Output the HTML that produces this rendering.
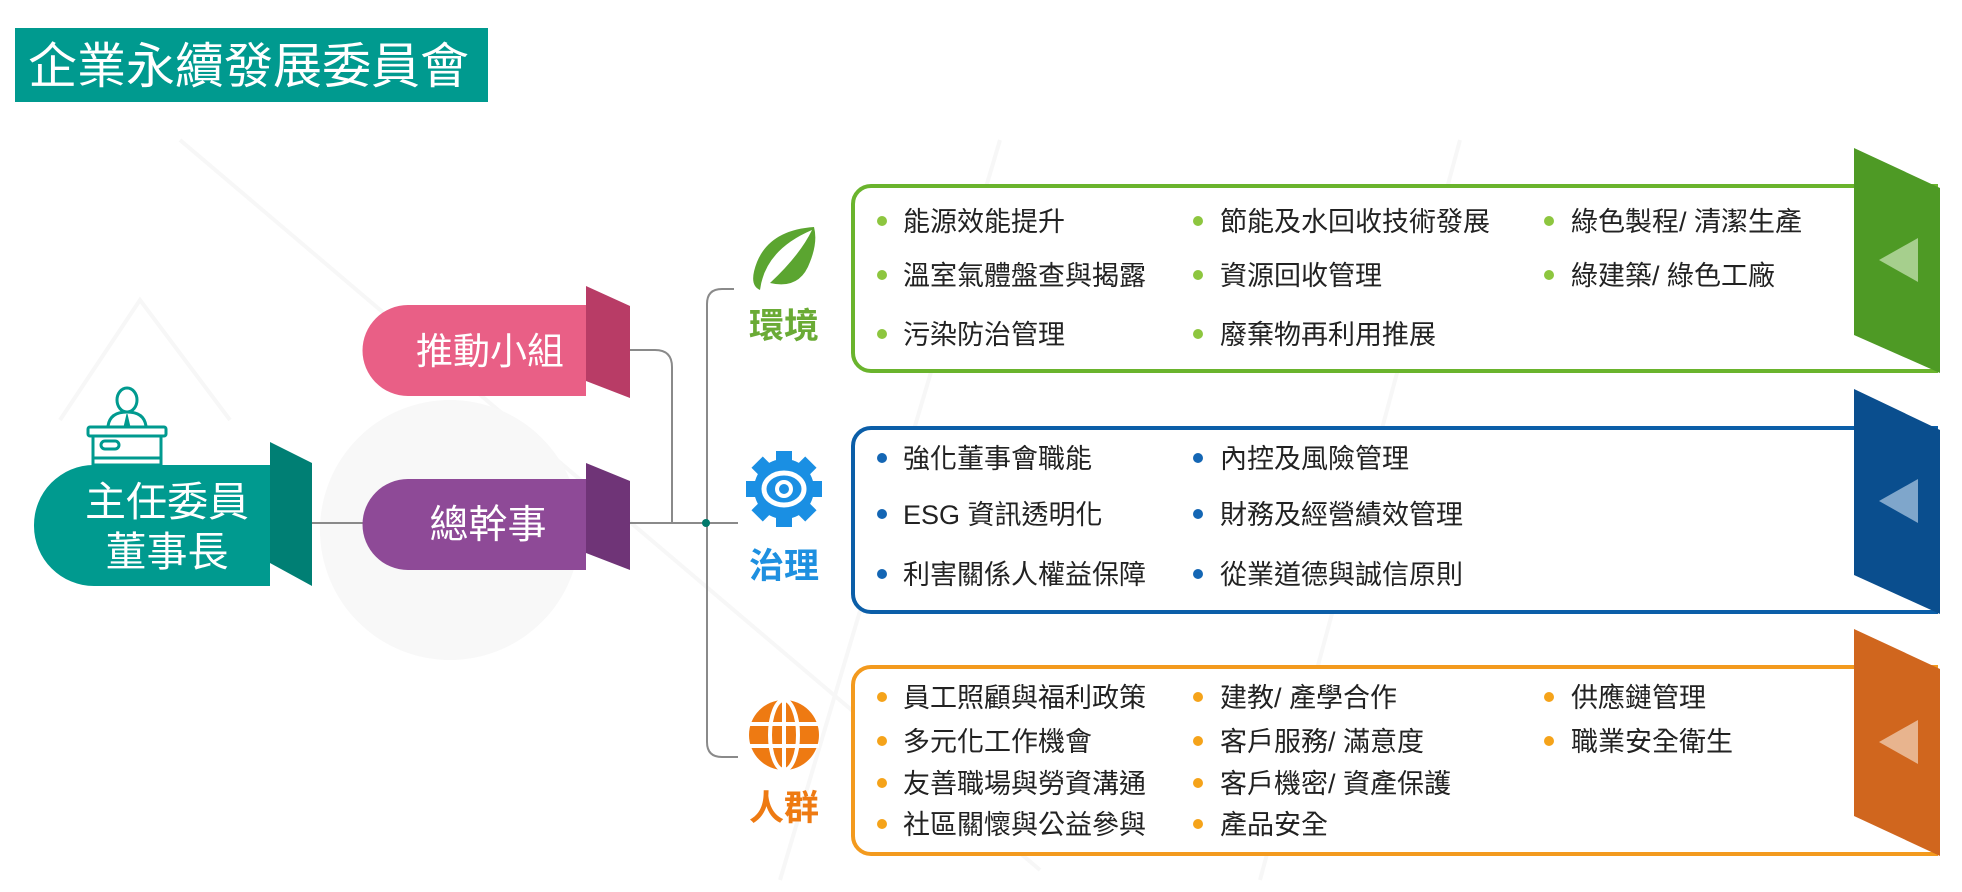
<!DOCTYPE html>
<html><head><meta charset="utf-8"><style>
html,body{margin:0;padding:0;background:#fff;}
svg{display:block;}
text{font-family:"Liberation Sans","Noto Sans CJK TC",sans-serif;}
</style></head><body>
<svg width="1962" height="892" viewBox="0 0 1962 892" xmlns="http://www.w3.org/2000/svg">
<rect width="1962" height="892" fill="#fff"/>
<g stroke="#f7f7f7" stroke-width="4" fill="none">
<path d="M180 140 L1040 870"/>
<path d="M60 420 L140 300 L230 420"/>
<circle cx="245" cy="510" r="16"/>
<path d="M1000 140 L780 880"/>
<path d="M1460 140 L1260 880"/>
</g>
<circle cx="450" cy="530" r="130" fill="#f8f8f8"/>
<rect x="15" y="28" width="473" height="74" fill="#009a8f"/>
<text x="28" y="83" font-size="49" fill="#fff">企業永續發展委員會</text>

<g stroke="#8a8a8a" stroke-width="2" fill="none">
<path d="M312 523 H363"/>
<path d="M630 523 H738"/>
<path d="M630 350 H655 Q672 350 672 367 V523"/>
<path d="M734 289 H722 Q707 289 707 304 V742 Q707 757 722 757 H738"/>
</g>
<circle cx="706" cy="523" r="4" fill="#00796b"/>

<g stroke="#009a8f" stroke-width="3" fill="#fff">
<ellipse cx="127" cy="400" rx="10" ry="12"/>
<path d="M108 426 Q110 412 127 412 Q144 412 146 426 V430 H108 Z"/>
<path d="M127 414 L124 427 L127 431 L130 427 Z" fill="#009a8f" stroke-width="1"/>
<rect x="88" y="427" width="78" height="9" rx="2"/>
<rect x="93" y="436" width="68" height="29"/>
<rect x="101" y="441" width="18" height="8" rx="4"/>
<path d="M93 458 H161"/>
</g>

<path d="M94 465 H270 V586 H94 A60 60 0 0 1 34 526 A60 60 0 0 1 94 465 Z" fill="#009a8f"/>
<polygon points="270,442 312,463 312,586 270,563" fill="#007f74"/>
<text x="167" y="516" font-size="41" fill="#fff" text-anchor="middle">主任委員</text>
<text x="167" y="566" font-size="41" fill="#fff" text-anchor="middle">董事長</text>

<path d="M408 305 H586 V396 H408 A45.5 45.5 0 0 1 408 305 Z" fill="#e95f86"/>
<polygon points="586,286 630,306 630,398 586,381" fill="#b83c66"/>
<text x="490" y="364" font-size="37" fill="#fff" text-anchor="middle">推動小組</text>
<path d="M408 479 H586 V570 H408 A45.5 45.5 0 0 1 408 479 Z" fill="#8e4a97"/>
<polygon points="586,463 630,481 630,570 586,553" fill="#6f3477"/>
<text x="488" y="538" font-size="39" fill="#fff" text-anchor="middle">總幹事</text>

<path d="M814 227 Q770 230 757 262 Q748 285 760 290 Q765 250 812 230 Q800 255 770 283 Q800 290 810 262 Q818 242 814 227 Z" fill="#5ba530"/>
<text x="784" y="338" font-size="35" fill="#6aab35" text-anchor="middle" font-weight="bold">環境</text>
<g transform="translate(784,489)" fill="#1a8fe3">
<circle r="30"/>
<g>
<rect x="-8" y="-38" width="16" height="14"/><rect x="-8" y="24" width="16" height="14"/>
<rect x="-38" y="-8" width="14" height="16"/><rect x="24" y="-8" width="14" height="16"/>
<rect x="-8" y="-38" width="16" height="14" transform="rotate(45)"/><rect x="-8" y="24" width="16" height="14" transform="rotate(45)"/>
<rect x="-38" y="-8" width="14" height="16" transform="rotate(45)"/><rect x="24" y="-8" width="14" height="16" transform="rotate(45)"/>
</g>
<ellipse rx="20" ry="16" fill="none" stroke="#fff" stroke-width="5"/>
<circle r="7" fill="none" stroke="#fff" stroke-width="4"/>
</g>
<text x="784" y="578" font-size="35" fill="#1e90e0" text-anchor="middle" font-weight="bold">治理</text>
<g transform="translate(784,735)">
<circle r="35" fill="#ee7a12"/>
<g stroke="#fff" stroke-width="4" fill="none">
<ellipse rx="14" ry="35"/><path d="M0 -35 V35"/><path d="M-35 -11 H35 M-35 11 H35"/>
</g>
</g>
<text x="784" y="820" font-size="35" fill="#ee7a12" text-anchor="middle" font-weight="bold">人群</text>

<path d="M1938 186 H871 A18 18 0 0 0 853 204 V353 A18 18 0 0 0 871 371 H1938" fill="#fff" stroke="#6ab42d" stroke-width="4"/>
<polygon points="1854,148 1940,188 1940,373 1854,335" fill="#4e9a25"/>
<polygon points="1879,260 1918,238 1918,282" fill="#a6cf8d"/>
<path d="M1938 428 H871 A18 18 0 0 0 853 446 V594 A18 18 0 0 0 871 612 H1938" fill="#fff" stroke="#0b5ea8" stroke-width="4"/>
<polygon points="1854,389 1940,430 1940,614 1854,575" fill="#0a4e8e"/>
<polygon points="1879,501 1918,479 1918,523" fill="#7fa6cb"/>
<path d="M1938 667 H871 A18 18 0 0 0 853 685 V836 A18 18 0 0 0 871 854 H1938" fill="#fff" stroke="#f39a1e" stroke-width="4"/>
<polygon points="1854,629 1940,669 1940,856 1854,816" fill="#d0661e"/>
<polygon points="1879,742 1918,720 1918,764" fill="#e8b48e"/>

<g font-size="27" fill="#222">
<g fill="#8dc63f"><circle cx="882" cy="221" r="5"/><circle cx="882" cy="275" r="5"/><circle cx="882" cy="334" r="5"/>
<circle cx="1198" cy="221" r="5"/><circle cx="1198" cy="275" r="5"/><circle cx="1198" cy="334" r="5"/>
<circle cx="1549" cy="221" r="5"/><circle cx="1549" cy="275" r="5"/></g>
<text x="903" y="231">能源效能提升</text><text x="903" y="285">溫室氣體盤查與揭露</text><text x="903" y="344">污染防治管理</text>
<text x="1220" y="231">節能及水回收技術發展</text><text x="1220" y="285">資源回收管理</text><text x="1220" y="344">廢棄物再利用推展</text>
<text x="1571" y="231">綠色製程/ 清潔生產</text><text x="1571" y="285">綠建築/ 綠色工廠</text>
<g fill="#1466b4"><circle cx="882" cy="458" r="5"/><circle cx="882" cy="514" r="5"/><circle cx="882" cy="574" r="5"/>
<circle cx="1198" cy="458" r="5"/><circle cx="1198" cy="514" r="5"/><circle cx="1198" cy="574" r="5"/></g>
<text x="903" y="468">強化董事會職能</text><text x="903" y="524">ESG 資訊透明化</text><text x="903" y="584">利害關係人權益保障</text>
<text x="1220" y="468">內控及風險管理</text><text x="1220" y="524">財務及經營績效管理</text><text x="1220" y="584">從業道德與誠信原則</text>
<g fill="#f5a31a"><circle cx="882" cy="697" r="5"/><circle cx="882" cy="741" r="5"/><circle cx="882" cy="783" r="5"/><circle cx="882" cy="824" r="5"/>
<circle cx="1198" cy="697" r="5"/><circle cx="1198" cy="741" r="5"/><circle cx="1198" cy="783" r="5"/><circle cx="1198" cy="824" r="5"/>
<circle cx="1549" cy="697" r="5"/><circle cx="1549" cy="741" r="5"/></g>
<text x="903" y="707">員工照顧與福利政策</text><text x="903" y="751">多元化工作機會</text><text x="903" y="793">友善職場與勞資溝通</text><text x="903" y="834">社區關懷與公益參與</text>
<text x="1220" y="707">建教/ 產學合作</text><text x="1220" y="751">客戶服務/ 滿意度</text><text x="1220" y="793">客戶機密/ 資產保護</text><text x="1220" y="834">產品安全</text>
<text x="1571" y="707">供應鏈管理</text><text x="1571" y="751">職業安全衛生</text>
</g>
</svg>
</body></html>
